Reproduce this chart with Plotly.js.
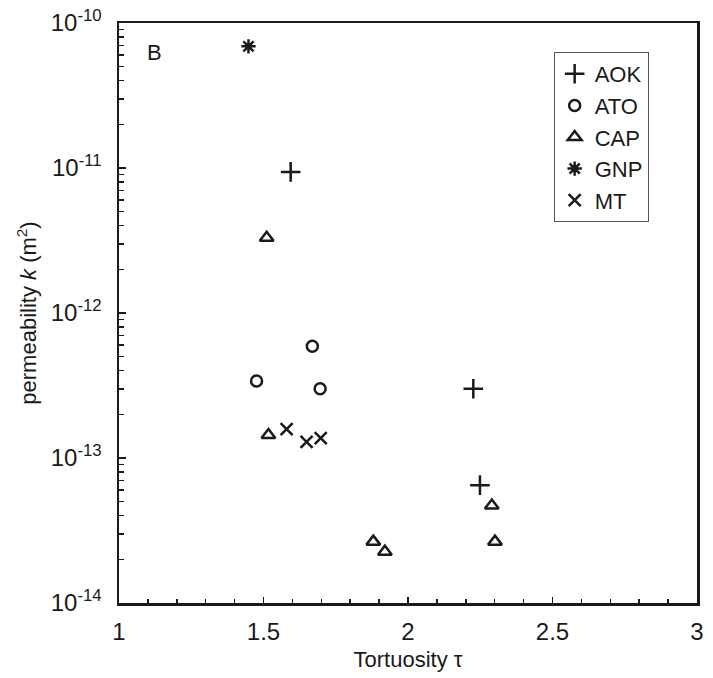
<!DOCTYPE html>
<html><head><meta charset="utf-8">
<script src="https://cdn.plot.ly/plotly-3.0.1.min.js"></script>
<style>html,body{margin:0;padding:0;background:#fff}</style>
</head><body><div id="chart" style="width:713px;height:678px"></div>
<script>
const aokX = [1.594, 2.226, 2.249];
const aokY = [9.4e-12, 3.0e-13, 6.5e-14];
const atoX = [1.476, 1.669, 1.696];
const atoY = [3.4e-13, 5.9e-13, 3.0e-13];
const capX = [1.511, 1.517, 1.880, 1.920, 2.290, 2.301];
const capY = [3.3e-12, 1.44e-13, 2.65e-14, 2.26e-14, 4.7e-14, 2.65e-14];
const gnpX = [1.448];
const gnpY = [6.9e-11];
const mtX = [1.580, 1.649, 1.698];
const mtY = [1.58e-13, 1.29e-13, 1.37e-13];
const yTickVals = [1e-14, 1e-13, 1e-12, 1e-11, 1e-10];
const yTickText = ['10<sup>-14</sup>', '10<sup>-13</sup>', '10<sup>-12</sup>', '10<sup>-11</sup>', '10<sup>-10</sup>'];
const xTickVals = [1, 1.5, 2, 2.5, 3];
const xTickText = ['1', '1.5', '2', '2.5', '3'];

// minor tick positions on the log axis: 2..9 x 10^n
const yMinor = [];
for (let e = -14; e < -10; e++) for (let m = 2; m <= 9; m++) yMinor.push(m * Math.pow(10, e));

const font = 'Liberation Sans, Arial, sans-serif';
const ink = '#1a1a1a';
function tr(name, x, y, sym, size, w) {
  return {type: 'scatter', mode: 'markers', name: name, x: x, y: y,
    marker: {symbol: sym, size: size, color: ink, line: {color: ink, width: w}}};
}
const data = [
  tr('AOK', aokX, aokY, 'cross-thin-open', 14, 2.5),
  tr('ATO', atoX, atoY, 'circle-open', 11, 2.5),
  tr('CAP', capX, capY, 'triangle-up-open', 12, 2.5),
  tr('GNP', gnpX, gnpY, 'asterisk-open', 12, 2.5),
  tr('MT', mtX, mtY, 'x-thin-open', 12, 2.5),
  // invisible carrier trace so the minor-tick overlay axis is drawn
  {type: 'scatter', mode: 'markers', x: gnpX, y: gnpY, yaxis: 'y2', showlegend: false,
    hoverinfo: 'skip', marker: {opacity: 0}}
];
const layout = {
  width: 713, height: 678,
  margin: {l: 119, r: 16, t: 23, b: 75},
  paper_bgcolor: '#fff', plot_bgcolor: '#fff',
  font: {family: font, size: 22, color: ink},
  showlegend: true,
  legend: {x: 0.752, y: 0.95, xanchor: 'left', yanchor: 'top',
    bordercolor: '#555', borderwidth: 1, bgcolor: '#fff',
    font: {family: font, size: 22, color: ink},
    itemwidth: 30, tracegroupgap: 0},
  xaxis: {range: [1, 3], tickvals: xTickVals, ticktext: xTickText,
    ticks: 'inside', ticklen: 6, tickwidth: 1.8, tickcolor: ink,
    minor: {dtick: 0.1, ticks: 'inside', ticklen: 4, tickwidth: 1.5, tickcolor: ink, showgrid: false},
    tickfont: {family: font, size: 24, color: ink},
    showgrid: false, zeroline: false, showline: true, linecolor: ink, linewidth: 2.5, mirror: true,
    ticklabelstandoff: 6,
    title: {text: 'Tortuosity τ', font: {family: font, size: 22, color: ink}, standoff: 8}},
  yaxis: {type: 'log', range: [-14, -10], tickvals: yTickVals, ticktext: yTickText,
    ticks: 'inside', ticklen: 7, tickwidth: 1.8, tickcolor: ink,
    tickfont: {family: font, size: 24, color: ink},
    showgrid: false, zeroline: false, showline: true, linecolor: ink, linewidth: 2.5, mirror: true,
    ticklabelstandoff: 10,
    title: {text: 'permeability <i>k</i> (m<sup>2</sup>)', font: {family: font, size: 22, color: ink}, standoff: 8}},
  yaxis2: {type: 'log', range: [-14, -10], overlaying: 'y', side: 'left', anchor: 'x',
    tickvals: yMinor, ticktext: yMinor.map(() => ''), ticks: 'inside', ticklen: 5, tickwidth: 1.5, tickcolor: ink,
    showticklabels: true, showgrid: false, zeroline: false, showline: false},
  annotations: [{text: 'B', xref: 'paper', yref: 'paper', x: 0.062, y: 0.95, xanchor: 'center', yanchor: 'middle',
    showarrow: false, font: {family: font, size: 22, color: ink}}]
};
Plotly.newPlot('chart', data, layout, {displayModeBar: false, staticPlot: true});
</script></body></html>
